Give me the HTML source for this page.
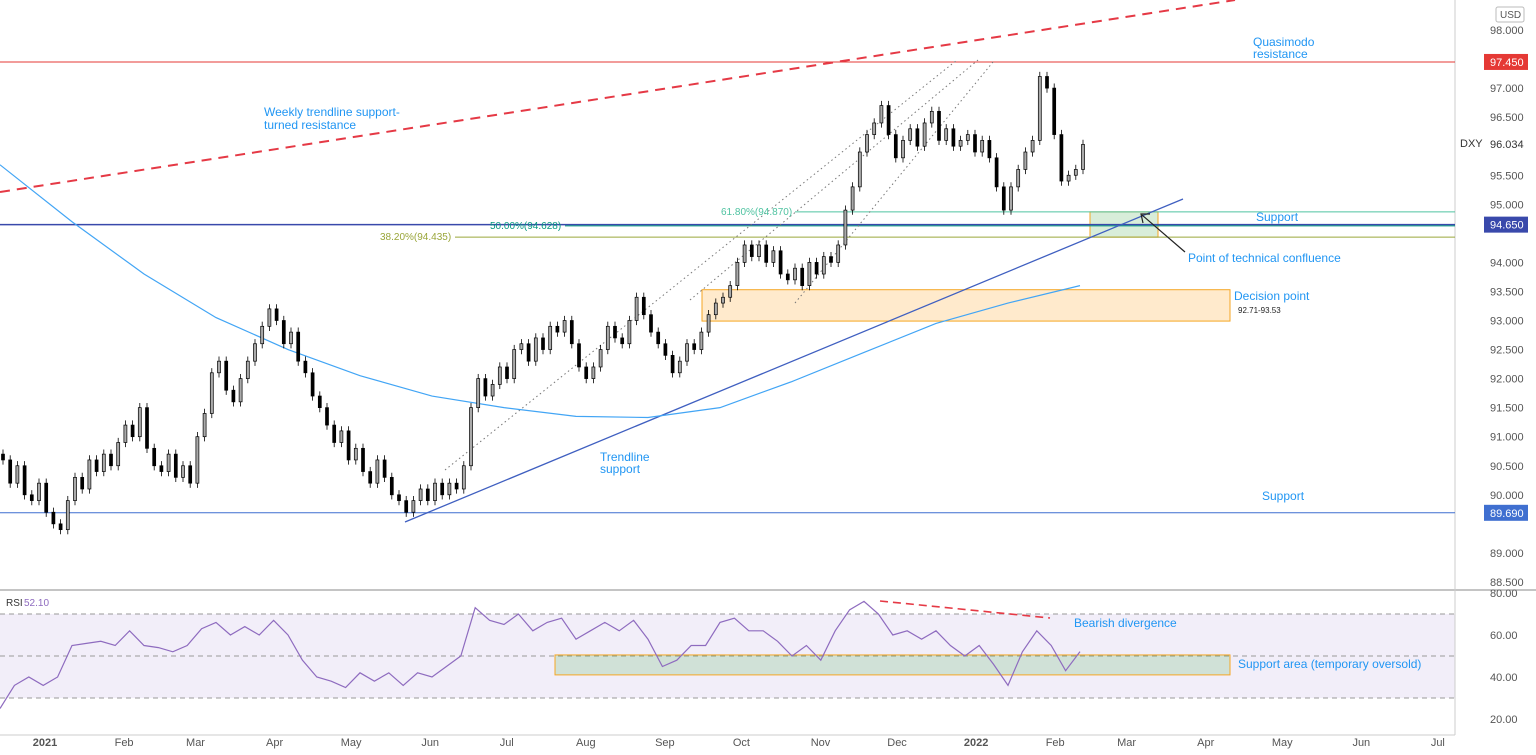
<!DOCTYPE html>
<html><head><meta charset="utf-8">
<style>
html,body{margin:0;padding:0;background:#fff;}
svg{display:block;font-family:"Liberation Sans",sans-serif;}
</style></head>
<body>
<svg id="c" width="1536" height="755" viewBox="0 0 1536 755"></svg>
<script>
const closes=[90.6,90.2,90.5,90.0,89.9,90.2,89.7,89.5,89.4,89.9,90.3,90.1,90.6,90.4,90.7,90.5,90.9,91.2,91.0,91.5,
90.8,90.5,90.4,90.7,90.3,90.5,90.2,91.0,91.4,92.1,92.3,91.8,91.6,92.0,92.3,92.6,92.9,93.2,93.0,92.6,
92.8,92.3,92.1,91.7,91.5,91.2,90.9,91.1,90.6,90.8,90.4,90.2,90.6,90.3,90.0,89.9,89.7,89.9,90.1,89.9,
90.2,90.0,90.2,90.1,90.5,91.5,92.0,91.7,91.9,92.2,92.0,92.5,92.6,92.3,92.7,92.5,92.9,92.8,93.0,92.6,
92.2,92.0,92.2,92.5,92.9,92.7,92.6,93.0,93.4,93.1,92.8,92.6,92.4,92.1,92.3,92.6,92.5,92.8,93.1,93.3,
93.4,93.6,94.0,94.3,94.1,94.3,94.0,94.2,93.8,93.7,93.9,93.6,94.0,93.8,94.1,94.0,94.3,94.9,95.3,95.9,
96.2,96.4,96.7,96.2,95.8,96.1,96.3,96.0,96.4,96.6,96.1,96.3,96.0,96.1,96.2,95.9,96.1,95.8,95.3,94.9,
95.3,95.6,95.9,96.1,97.2,97.0,96.2,95.4,95.5,95.6,96.03];
const rsiVals=[25,36,40,36,40,55,56,57,55,62,55,54,52,55,63,66,60,64,60,67,60,48,40,38,35,42,38,42,36,42,
40,45,50,73,67,65,70,62,66,68,58,62,66,62,67,58,45,48,55,55,66,68,62,62,57,50,55,48,62,72,
76,70,60,62,58,62,55,50,55,46,36,52,62,55,43,52.1];
const maVals=[95.68,94.7,93.8,93.05,92.5,92.05,91.7,91.5,91.35,91.33,91.5,91.95,92.45,92.95,93.3,93.6];
const priceTicks=[98,97.5,97,96.5,96,95.5,95,94.5,94,93.5,93,92.5,92,91.5,91,90.5,90,89.5,89,88.5];
const rsiTicks=[80,60,40,20];
const monthLabels=["2021","Feb","Mar","Apr","May","Jun","Jul","Aug","Sep","Oct","Nov","Dec","2022","Feb","Mar","Apr","May","Jun","Jul"];
const monthDays=[0,31,59,90,120,151,181,212,243,273,304,334,365,396,424,455,485,516,546];

const S=document.getElementById('c');const NS='http://www.w3.org/2000/svg';
function mk(t,a,p){const e=document.createElementNS(NS,t);for(const k in a)e.setAttribute(k,a[k]);(p||S).appendChild(e);return e;}
const y=p=>30+(98-p)/0.5*29.05;
const ry=r=>593+(80-r)*2.1;
const cx=i=>3+i*7.2;
const rx=i=>i*14.4;
const mx=i=>i*72;
const dx=d=>45+d*2.551;

let e=mk('rect',{x:0,y:ry(70),width:1455,height:ry(30)-ry(70),fill:'rgba(126,87,194,0.1)'});

[70,50,30].forEach(v=>{let l=mk('line',{x1:0,x2:1455,y1:ry(v),y2:ry(v),stroke:'#999','stroke-dasharray':'5,4','stroke-width':1});
});
e=mk('rect',{x:555,y:ry(50.5),width:675,height:ry(41)-ry(50.5),fill:'rgba(76,175,80,0.2)',stroke:'#f5a623'});

e=mk('line',{x1:0,x2:1536,y1:590,y2:590,stroke:'#888'});
e=mk('line',{x1:1455,x2:1455,y1:0,y2:735,stroke:'#ccc'});
e=mk('line',{x1:0,x2:1455,y1:735,y2:735,stroke:'#ccc'});

e=mk('rect',{x:702,y:y(93.53),width:528,height:y(92.99)-y(93.53),fill:'rgba(255,152,0,0.2)',stroke:'#f5a623'});

e=mk('rect',{x:1090,y:y(94.87),width:68,height:y(94.435)-y(94.87),fill:'rgba(76,175,80,0.22)',stroke:'#f5a623'});


e=mk('line',{x1:0,x2:1455,y1:y(97.45),y2:y(97.45),stroke:'#e53935'});
e=mk('line',{x1:0,x2:1455,y1:y(94.65),y2:y(94.65),stroke:'#3949ab','stroke-width':1.5});
e=mk('line',{x1:0,x2:1455,y1:y(89.69),y2:y(89.69),stroke:'#3f6fd0'});
e=mk('line',{x1:795,x2:1455,y1:y(94.87),y2:y(94.87),stroke:'#4fc3a1'});
e=mk('line',{x1:565,x2:1455,y1:y(94.628),y2:y(94.628),stroke:'#089981'});
e=mk('line',{x1:455,x2:1455,y1:y(94.435),y2:y(94.435),stroke:'#9aa63a'});

e=mk('line',{x1:0,y1:192,x2:1235,y2:0,stroke:'#e53945','stroke-width':2,'stroke-dasharray':'10,7'});
e=mk('line',{x1:405,y1:522,x2:1183,y2:199,stroke:'#3f5fc0','stroke-width':1.3});
[[445,470,957,60],[690,300,978,60],[795,303,993,62]].forEach((c,i)=>{let l=mk('line',{x1:c[0],y1:c[1],x2:c[2],y2:c[3],stroke:'#777','stroke-dasharray':'1.5,3'});
});

let pts=maVals.map((v,i)=>mx(i)+','+y(v)).join(' ');
e=mk('polyline',{points:pts,fill:'none',stroke:'#42a5f5','stroke-width':1.2});

const g=mk('g',{});
closes.forEach((c,i)=>{const o=i?closes[i-1]:c+0.1;const hi=Math.max(o,c)+0.08,lo=Math.min(o,c)-0.08;const x=cx(i);
 let w=mk('line',{x1:x,x2:x,y1:y(hi),y2:y(lo),stroke:'#000','stroke-width':0.8},g);
 
 let b=mk('rect',{x:x-1.5,y:y(Math.max(o,c)),width:3,height:Math.max(1,Math.abs(y(o)-y(c))),fill:c>=o?'#aaa':'#000',stroke:'#000','stroke-width':0.7},g);
 });

pts=rsiVals.map((v,i)=>rx(i)+','+ry(v)).join(' ');
e=mk('polyline',{points:pts,fill:'none',stroke:'#8e6bbf','stroke-width':1.2});
e=mk('line',{x1:880,y1:601,x2:1050,y2:618,stroke:'#e53945','stroke-width':1.6,'stroke-dasharray':'8,5'});

e=mk('line',{x1:1185,y1:252,x2:1142,y2:215,stroke:'#222','stroke-width':1.2});
e=mk('polyline',{points:'1150,214 1141,214 1143,223',fill:'none',stroke:'#222','stroke-width':1.2});

function txt(s,x,yy,o,name){const t=mk('text',Object.assign({x:x,y:yy,'font-size':12,fill:'#2196f3'},o||{}));t.textContent=s;
 return t;}
txt('Quasimodo',1253,46,{},'quasimodo-label');txt('resistance',1253,58,{},'quasimodo-label-2');
txt('Weekly trendline support-',264,116,{},'weekly-trendline-label');txt('turned resistance',264,129,{},'weekly-trendline-label-2');
txt('Trendline',600,461,{},'trendline-label');txt('support',600,473,{},'trendline-label-2');
txt('Support',1256,221,{},'support-label-top');txt('Support',1262,500,{},'support-label-bottom');
txt('Point of technical confluence',1188,262,{},'confluence-label');
txt('Decision point',1234,300,{},'decision-point-label');
txt('92.71-93.53',1238,313,{fill:'#222','font-size':8},'decision-range-label');
txt('Bearish divergence',1074,627,{},'bearish-divergence-label');
txt('Support area (temporary oversold)',1238,668,{},'support-area-label');
txt('61.80%(94.870)',721,215,{fill:'#4fc3a1','font-size':10},'fib-618-label');
txt('50.00%(94.628)',490,229,{fill:'#089981','font-size':10},'fib-50-label');
txt('38.20%(94.435)',380,240,{fill:'#9aa63a','font-size':10},'fib-382-label');
txt('RSI',6,606,{fill:'#333','font-size':10},'rsi-title');txt('52.10',24,606,{fill:'#8e6bbf','font-size':10},'rsi-value');
txt('DXY',1460,147,{fill:'#333','font-size':11},'symbol-label');

const markers=[97.45,94.65,89.69,96.034];
priceTicks.forEach(p=>{if(markers.some(m=>Math.abs(y(m)-y(p))<12))return;txt(p.toFixed(3),1490,y(p)+4,{fill:'#555','font-size':11},'price-tick');});
[[97.45,'#e53935'],[94.65,'#3949ab'],[89.69,'#3f6fd0']].forEach(a=>{let r=mk('rect',{x:1484,y:y(a[0])-8,width:44,height:16,fill:a[1]});
 
 txt(a[0].toFixed(3),1490,y(a[0])+4,{fill:'#fff','font-size':11},'price-marker-label');});
txt('96.034',1490,y(96.034)+4,{fill:'#333','font-size':11},'last-price-label');
e=mk('rect',{x:1496,y:7,width:28,height:15,fill:'#fff',stroke:'#bbb',rx:2});
txt('USD',1500,18,{fill:'#555','font-size':10},'currency-label');
rsiTicks.forEach(r=>{txt(r.toFixed(2),1490,ry(r)+4,{fill:'#555','font-size':11},'rsi-tick');});
monthLabels.forEach((m,i)=>{txt(m,dx(monthDays[i]),746,{fill:'#555','font-size':11,'text-anchor':'middle','font-weight':m.length>3?'bold':'normal'},'time-tick');});
</script>
</body></html>
